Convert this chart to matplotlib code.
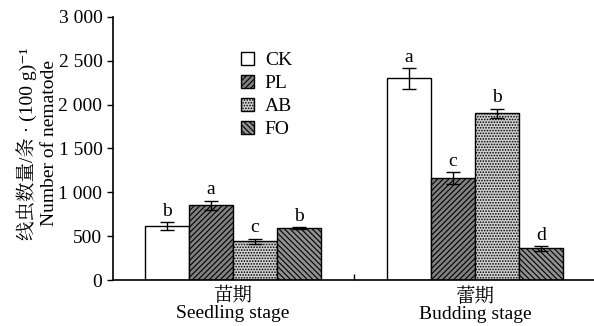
import matplotlib
matplotlib.use("Agg")
import matplotlib.pyplot as plt
import numpy as np

plt.rcParams['font.family'] = ['Liberation Serif', 'Noto Serif CJK SC', 'Noto Sans CJK SC', 'DejaVu Serif']
plt.rcParams['hatch.linewidth'] = 0.8

# data
stages = ["苗期\nSeedling stage", "蕾期\nBudding stage"]
treatments = ["CK", "PL", "AB", "FO"]
means = {
    "CK": [620, 2300],
    "PL": [850, 1160],
    "AB": [440, 1900],
    "FO": [590, 360],
}
errs = {
    "CK": [45, 120],
    "PL": [55, 70],
    "AB": [33, 55],
    "FO": [10, 28],
}
letters = {
    "CK": ["b", "a"],
    "PL": ["a", "c"],
    "AB": ["c", "b"],
    "FO": ["b", "d"],
}

# styles
faces = {"CK": "white", "PL": "#808080", "AB": "#d0d0d0", "FO": "#909090"}
hatches = {"CK": "", "PL": "//////", "AB": "......", "FO": "\\\\\\\\\\\\"}

fig = plt.figure(figsize=(5.94, 3.26), dpi=100)
ax = fig.add_axes([0.19, 0.141, 0.81, 0.807])

centers = np.array([2.727, 8.227])
w = 1.0
for i, t in enumerate(treatments):
    x = centers + (i - 1.5) * w
    ax.bar(x, means[t], width=w, facecolor=faces[t], edgecolor="black",
           hatch=hatches[t], linewidth=1.0, label=t, zorder=2)
    ax.errorbar(x, means[t], yerr=errs[t], fmt="none", ecolor="black",
                elinewidth=1.0, capsize=5, capthick=1.0, zorder=3)
    for xi, m, e, l in zip(x, means[t], errs[t], letters[t]):
        ax.text(xi, m + e + 25, l, ha="center", va="bottom", fontsize=14)

ax.set_xlim(0, 10.93)
ax.set_ylim(0, 3000)
ax.set_yticks([0, 500, 1000, 1500, 2000, 2500, 3000])
ax.set_yticklabels(["0", "500", "1 000", "1 500", "2 000", "2 500", "3 000"])
ax.set_xticks(centers)
ax.set_xticklabels(stages, fontsize=14, linespacing=1.0)
ax.set_xticks([5.477], minor=True)
ax.tick_params(axis="x", which="major", length=0, pad=5)
ax.tick_params(axis="x", which="minor", length=4, direction="in", width=1)
ax.tick_params(axis="y", labelsize=14, length=4, width=1, direction="out")
for s in ["top", "right"]:
    ax.spines[s].set_visible(False)
for s in ["left", "bottom"]:
    ax.spines[s].set_linewidth(1.2)

fig.text(0.045, 0.56, "线虫数量/条 · (100 g)⁻¹", rotation=90,
         ha="center", va="center", fontsize=14)
fig.text(0.083, 0.56, "Number of nematode", rotation=90,
         ha="center", va="center", fontsize=14)

leg = ax.legend(loc="upper left", bbox_to_anchor=(0.247, 0.905), frameon=False,
                fontsize=14, handlelength=0.65, handleheight=0.65,
                handletextpad=0.55, labelspacing=0.3, borderpad=0)

fig.savefig("out.png", dpi=100)
